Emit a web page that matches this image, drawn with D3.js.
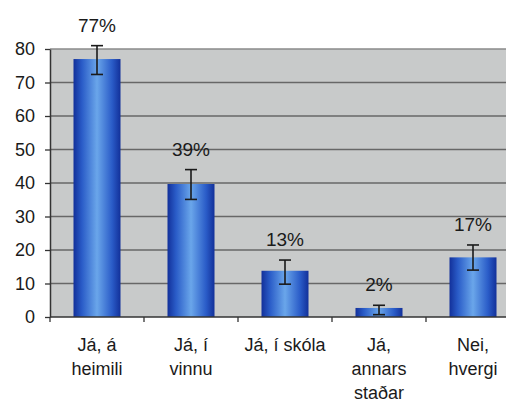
<html>
<head>
<meta charset="utf-8">
<script src="https://d3js.org/d3.v7.min.js"></script>
<style>
  body { margin: 0; background: #fff; }
  text { font-family: "Liberation Sans", Arial, sans-serif; fill: #1a1a1a; }
</style>
</head>
<body>
<svg width="506" height="404"></svg>
<script>
// values
var categories = [["Já, á", "heimili"], ["Já, í", "vinnu"], ["Já, í skóla"], ["Já,", "annars", "staðar"], ["Nei,", "hvergi"]];
var values = [77, 39.7, 13.8, 2.7, 17.8];
var errLow = [72.4, 35.1, 9.8, 0.7, 14.0];
var errHigh = [81, 44, 17, 3.5, 21.5];
var valueLabels = ["77%", "39%", "13%", "2%", "17%"];
var yTicks = [0, 10, 20, 30, 40, 50, 60, 70, 80];

var svg = d3.select("svg");
var plotLeft = 50, plotTop = 49, plotBottom = 317, plotRight = 520;

var x = d3.scaleBand().domain(d3.range(categories.length)).range([plotLeft, plotRight]).paddingInner(0.5).paddingOuter(0.25);
var y = d3.scaleLinear().domain([0, 80]).range([plotBottom, plotTop]);

var defs = svg.append("defs");
var grad = defs.append("linearGradient").attr("id", "barGrad").attr("x1", 0).attr("x2", 1).attr("y1", 0).attr("y2", 0);
grad.append("stop").attr("offset", "0%").attr("stop-color", "#12309a");
grad.append("stop").attr("offset", "18%").attr("stop-color", "#2a5cc8");
grad.append("stop").attr("offset", "50%").attr("stop-color", "#6aa6ea");
grad.append("stop").attr("offset", "82%").attr("stop-color", "#2a5cc8");
grad.append("stop").attr("offset", "100%").attr("stop-color", "#12309a");

// plot background
svg.append("rect")
  .attr("x", plotLeft).attr("y", plotTop)
  .attr("width", plotRight - plotLeft).attr("height", plotBottom - plotTop)
  .attr("fill", "#c8caca");

// gridlines
svg.append("g").selectAll("line")
  .data(yTicks.slice(1))
  .enter().append("line")
  .attr("x1", plotLeft).attr("x2", plotRight)
  .attr("y1", function(d) { return y(d); })
  .attr("y2", function(d) { return y(d); })
  .attr("stroke", function(d) { return d == 80 ? "#8a8a8a" : "#676767"; })
  .attr("stroke-width", 1.5);

// bars
svg.append("g").selectAll("rect")
  .data(values)
  .enter().append("rect")
  .attr("x", function(d, i) { return x(i); })
  .attr("y", function(d) { return y(d); })
  .attr("width", x.bandwidth())
  .attr("height", function(d) { return y(0) - y(d); })
  .attr("fill", "url(#barGrad)");

// error bars
var err = svg.append("g").attr("stroke", "#1a1a1a").attr("stroke-width", 1.6);
values.forEach(function(v, i) {
  var cx = x(i) + x.bandwidth() / 2;
  err.append("line").attr("x1", cx).attr("x2", cx).attr("y1", y(errHigh[i])).attr("y2", y(errLow[i]));
  err.append("line").attr("x1", cx - 6).attr("x2", cx + 6).attr("y1", y(errHigh[i])).attr("y2", y(errHigh[i]));
  err.append("line").attr("x1", cx - 6).attr("x2", cx + 6).attr("y1", y(errLow[i])).attr("y2", y(errLow[i]));
});

// value labels
svg.append("g").selectAll("text")
  .data(valueLabels)
  .enter().append("text")
  .attr("x", function(d, i) { return x(i) + x.bandwidth() / 2; })
  .attr("y", function(d, i) { return y(errHigh[i]) - 14; })
  .attr("text-anchor", "middle")
  .style("font-size", "19px")
  .text(function(d) { return d; });

// y axis
var yAxis = svg.append("g")
  .attr("transform", "translate(" + plotLeft + ",0)")
  .call(d3.axisLeft(y).tickValues(yTicks).tickSize(5).tickPadding(10).tickSizeOuter(0));
yAxis.select(".domain").attr("stroke", "#333").attr("stroke-width", 1.5);
yAxis.selectAll(".tick line").attr("stroke", "#333").attr("stroke-width", 1.3);
yAxis.selectAll(".tick text").style("font-size", "18px").attr("fill", "#1a1a1a");

// x axis line and ticks between categories
svg.append("line").attr("x1", plotLeft).attr("x2", plotRight).attr("y1", plotBottom).attr("y2", plotBottom)
  .attr("stroke", "#333").attr("stroke-width", 1.5);
var step = x.step();
svg.append("g").selectAll("line")
  .data(d3.range(categories.length + 1))
  .enter().append("line")
  .attr("x1", function(i) { return plotLeft + i * step; })
  .attr("x2", function(i) { return plotLeft + i * step; })
  .attr("y1", plotBottom).attr("y2", plotBottom + 5)
  .attr("stroke", "#333").attr("stroke-width", 1.3);

// category labels
var catG = svg.append("g");
categories.forEach(function(lines, i) {
  var t = catG.append("text")
    .attr("x", x(i) + x.bandwidth() / 2)
    .attr("y", 351)
    .attr("text-anchor", "middle")
    .style("font-size", "18px");
  lines.forEach(function(s, j) {
    t.append("tspan").attr("x", x(i) + x.bandwidth() / 2).attr("dy", j == 0 ? 0 : 24).text(s);
  });
});
</script>
</body>
</html>
